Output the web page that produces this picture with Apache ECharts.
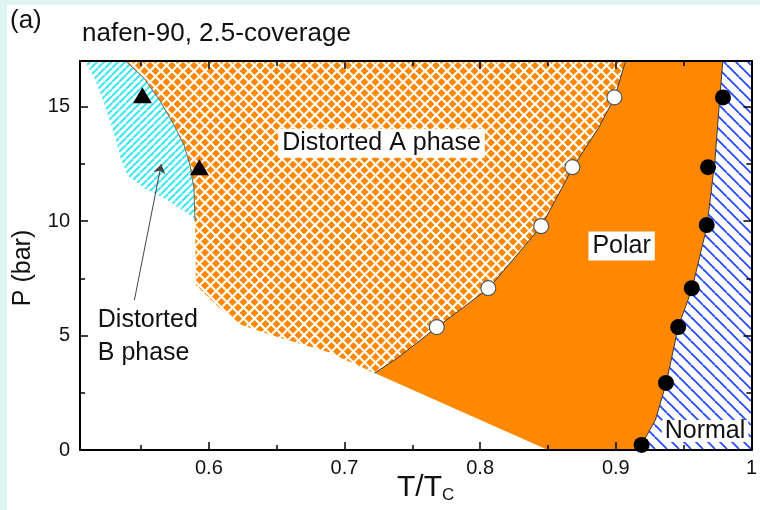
<!DOCTYPE html>
<html>
<head>
<meta charset="utf-8">
<script src="https://cdn.jsdelivr.net/npm/echarts@6/dist/echarts.min.js"></script>
<style>
  html, body { margin: 0; padding: 0; background: #def5f1; }
  #chart { position: absolute; left: 7px; top: 5px; width: 753px; height: 505px; background: #fff; }
</style>
</head>
<body>
<div id="chart"></div>
<script>
const X_MIN = 0.505, X_MAX = 1.0, Y_MIN = 0, Y_MAX = 17;
const xMajor = [0.6, 0.7, 0.8, 0.9, 1.0];
const xMinor = [0.55, 0.65, 0.75, 0.85, 0.95];
const yMajor = [0, 5, 10, 15];
const yMinor = [2.5, 7.5, 12.5];

// phase boundaries, [T/Tc, P]
const abLine = [[0.5386, 17.0], [0.5524, 16.24], [0.5642, 15.24], [0.5744, 14.19], [0.5817, 13.32],
  [0.5861, 12.45], [0.5890, 11.44], [0.5898, 10.0]];
const apLine = [[0.7222, 3.36], [0.7390, 4.02], [0.7683, 5.37], [0.8063, 7.07], [0.8451, 9.78],
  [0.8685, 12.36], [0.8875, 14.10], [0.8992, 15.41], [0.9072, 17.0]];
const pnLine = [[0.9168, 0], [0.9292, 1.31], [0.9372, 2.93], [0.9460, 5.37], [0.9563, 7.07],
  [0.9672, 9.78], [0.9731, 12.66], [0.9767, 15.41], [0.9789, 17.0]];

// outer edges of the shaded areas
const bEdge = [[0.5086, 17.0], [0.5159, 16.24], [0.5232, 15.07], [0.5305, 13.76], [0.5349, 12.75],
  [0.5400, 12.01], [0.5524, 11.44], [0.5671, 11.00], [0.5817, 10.44], [0.5890, 10.13]];
const aEdge = [[0.5905, 7.21], [0.6073, 6.24], [0.6241, 5.46], [0.6512, 4.93], [0.6878, 4.28]];
const polarFoot = [[0.85, 0]];
const rightEdge = [[1.0, 17.0], [1.0, 0]];

// measured transitions
const pressures = [5.37, 7.07, 9.78, 12.36, 15.41];
const aPolarT = [0.768, 0.806, 0.845, 0.868, 0.899];
const normalT = [0.919, 0.937, 0.946, 0.956, 0.967, 0.968, 0.979];
const normalP = [0.22, 2.93, 5.37, 7.07, 9.83, 12.36, 15.41];
const abT = [0.551, 0.593];
const abP = [15.5, 12.36];

const FONT = "'Liberation Sans', Arial, sans-serif";

function makePattern(size, bg, color, lw, dirs) {
  const c = document.createElement("canvas");
  c.width = c.height = size;
  const g = c.getContext("2d");
  if (bg) {
    g.fillStyle = bg;
    g.fillRect(0, 0, size, size);
  }
  g.strokeStyle = color;
  g.lineWidth = lw;
  dirs.forEach((d) => {
    for (let k = -1; k <= 1; k++) {
      g.beginPath();
      if (d === "\\") {
        g.moveTo(k * size, 0);
        g.lineTo(k * size + size, size);
      } else {
        g.moveTo(k * size, size);
        g.lineTo(k * size + size, 0);
      }
      g.stroke();
    }
  });
  return { image: c, repeat: "repeat" };
}

const crossFill = makePattern(11, "#ff8800", "#ffffff", 2.2, ["/", "\\"]);
const cyanFill = makePattern(7, null, "#3ee6ef", 2, ["/"]);
const blueFill = makePattern(12, null, "#2448ff", 1.8, ["\\"]);

function region(name, pts, fill) {
  return {
    type: "custom",
    name: name,
    data: pts,
    z: 1,
    silent: true,
    renderItem: (params, api) => {
      if (params.dataIndex !== 0) return;
      return {
        type: "polygon",
        shape: { points: pts.map((p) => api.coord(p)) },
        style: { fill: fill },
      };
    },
  };
}

function boundary(pts, color) {
  return {
    type: "line",
    data: pts,
    symbol: "none",
    silent: true,
    z: 3,
    lineStyle: { color: color, width: 1 },
  };
}

const rev = (a) => a.slice().reverse();

function axis(position, dimMin, dimMax, ticks, len, withLine, withLabels) {
  return {
    type: "value",
    position: position,
    min: dimMin,
    max: dimMax,
    z: 10,
    splitLine: { show: false },
    axisLine: { show: withLine, onZero: false, lineStyle: { color: "#000", width: 2 } },
    axisTick: { inside: true, length: len, customValues: ticks, lineStyle: { color: "#000", width: 1.5 } },
    axisLabel: withLabels
      ? { customValues: ticks, margin: position === "left" ? 10 : 8, fontSize: 20, color: "#111", fontFamily: FONT }
      : { show: false },
  };
}

const chart = echarts.init(document.getElementById("chart"), null, { renderer: "canvas" });

const labelStyle = {
  show: true,
  formatter: "{b}",
  fontSize: 25,
  fontFamily: FONT,
  color: "#111",
  backgroundColor: "#fff",
  padding: [2, 4],
};

chart.setOption({
  animation: false,
  backgroundColor: "transparent",
  title: [
    { text: "(a)", left: 3, top: 3, padding: 0, textStyle: { fontSize: 26, fontWeight: "normal", fontFamily: FONT, color: "#111" } },
    { text: "nafen-90, 2.5-coverage", left: 75, top: 16, padding: 0, textStyle: { fontSize: 26, fontWeight: "normal", fontFamily: FONT, color: "#111" } },
  ],
  grid: { left: 73, top: 56, right: 3, bottom: 60 },
  xAxis: [
    axis("bottom", X_MIN, X_MAX, xMajor, 8, true, true),
    axis("bottom", X_MIN, X_MAX, xMinor, 5, false, false),
    axis("top", X_MIN, X_MAX, xMajor, 8, true, false),
    axis("top", X_MIN, X_MAX, xMinor, 5, false, false),
  ],
  yAxis: [
    axis("left", Y_MIN, Y_MAX, yMajor, 8, true, true),
    axis("left", Y_MIN, Y_MAX, yMinor, 5, false, false),
    axis("right", Y_MIN, Y_MAX, yMajor, 8, true, false),
    axis("right", Y_MIN, Y_MAX, yMinor, 5, false, false),
  ],
  graphic: [
    {
      type: "text",
      x: 16,
      y: 263,
      rotation: Math.PI / 2,
      style: { text: "P (bar)", fontSize: 25, fontFamily: FONT, fill: "#111", align: "center", verticalAlign: "middle" },
    },
    {
      type: "text",
      x: 390,
      y: 466,
      style: {
        text: "{a|T/T}{s|C}",
        fill: "#111",
        rich: {
          a: { fontSize: 30, fontFamily: FONT, fill: "#111" },
          s: { fontSize: 17, fontFamily: FONT, fill: "#111", padding: [16, 0, 0, 0] },
        },
      },
    },
  ],
  series: [
    region("Distorted B", bEdge.concat(rev(abLine)), cyanFill),
    region("Distorted A", abLine.concat(aEdge, apLine), crossFill),
    region("Polar", apLine.concat(rev(pnLine), polarFoot), "#ff8800"),
    region("Normal", pnLine.concat(rightEdge), blueFill),
    boundary(abLine, "#666"),
    boundary(apLine, "#3a3a3a"),
    boundary(pnLine, "#3a3a3a"),
    {
      type: "scatter",
      name: "A-B",
      data: abT.map((t, i) => [t, abP[i]]),
      symbol: "triangle",
      symbolSize: [19, 16],
      itemStyle: { color: "#000", opacity: 1 },
      z: 5,
      markLine: {
        silent: true,
        symbol: ["none", "arrow"],
        symbolSize: 9,
        label: { show: false },
        lineStyle: { color: "#444", width: 1, type: "solid", opacity: 1 },
        data: [[{ coord: [0.5451, 6.55] }, { coord: [0.5649, 12.49] }]],
      },
    },
    {
      type: "scatter",
      name: "A-Polar",
      data: aPolarT.map((t, i) => [t, pressures[i]]),
      symbol: "circle",
      symbolSize: 15,
      itemStyle: { color: "#fff", borderColor: "#555", borderWidth: 1.2, opacity: 1 },
      z: 5,
    },
    {
      type: "scatter",
      name: "Polar-Normal",
      data: normalT.map((t, i) => [t, normalP[i]]),
      symbol: "circle",
      symbolSize: 16,
      itemStyle: { color: "#000", opacity: 1 },
      z: 5,
    },
    {
      type: "scatter",
      name: "labels",
      symbolSize: 0,
      silent: true,
      z: 6,
      itemStyle: { opacity: 1 },
      label: labelStyle,
      data: [
        { name: "Distorted A phase", value: [0.7273, 13.41], label: { position: "inside" } },
        { name: "Polar", value: [0.9043, 8.91], label: { position: "inside" } },
        { name: "Normal", value: [0.9658, 0.83], label: { position: "inside", padding: [0, 3], lineHeight: 22 } },
        {
          name: "Distorted\nB phase",
          value: [0.5181, 4.96],
          label: { position: "right", distance: 0, backgroundColor: "transparent", padding: 0, lineHeight: 33 },
        },
      ],
    },
  ],
});
</script>
</body>
</html>
